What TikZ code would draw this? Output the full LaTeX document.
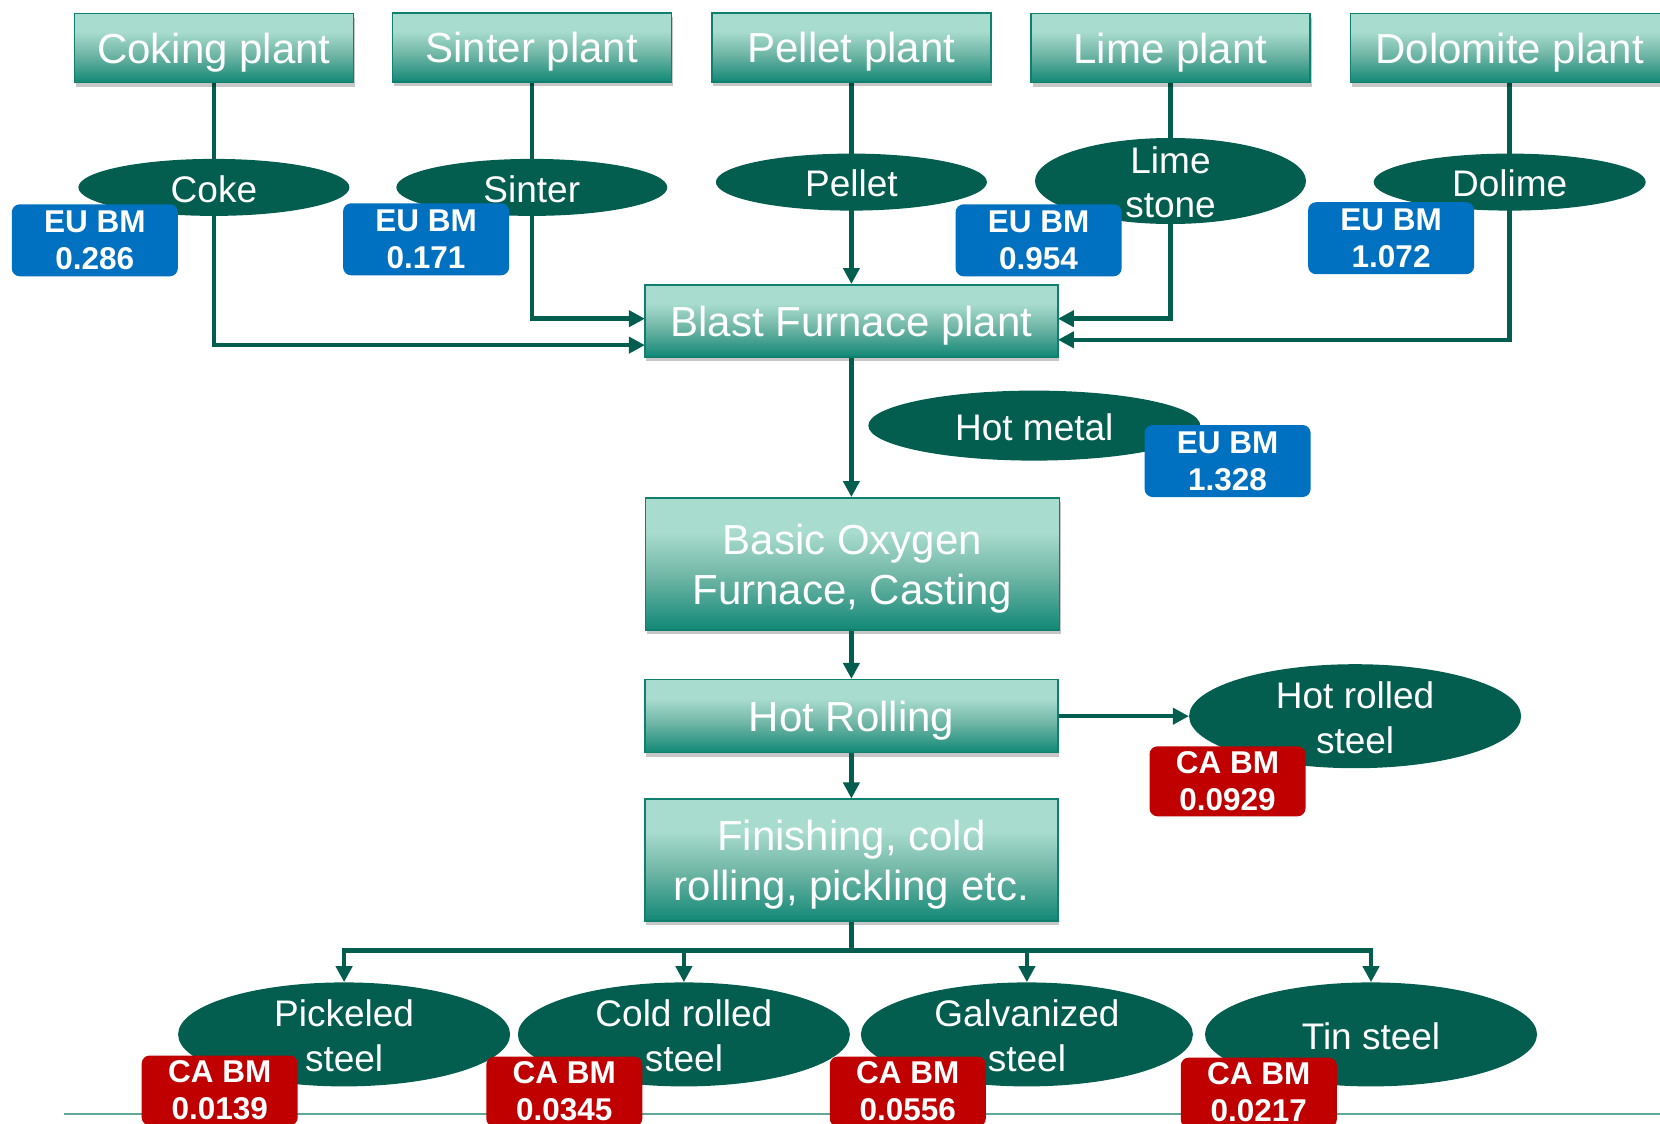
\documentclass[tikz,border=0pt]{standalone}
\usepackage{fontspec}
\setmainfont{Liberation Sans}
\usetikzlibrary{shapes.geometric,arrows.meta,shadows}
\definecolor{dkg}{HTML}{035E50}
\definecolor{bord}{HTML}{10806E}
\definecolor{euB}{HTML}{0070C0}
\definecolor{caR}{HTML}{C00000}
\definecolor{topc}{HTML}{A8DCCE}
\definecolor{midc}{HTML}{72B7A7}
\definecolor{botc}{HTML}{128876}
\definecolor{rulec}{HTML}{5FA89A}
\pgfdeclareverticalshading{boxshade}{100bp}{color(0bp)=(botc); color(25bp)=(botc); color(46bp)=(midc); color(62bp)=(topc); color(75bp)=(topc); color(100bp)=(topc)}
\pgfdeclarelayer{bg}
\pgfsetlayers{bg,main}
\tikzset{
  plant/.style={draw=bord, line width=1.5pt, shading=boxshade, minimum width=279pt, minimum height=69pt,
    text=white, font=\fontsize{42}{50}\selectfont, align=center, inner sep=0pt, text depth=0pt,
    drop shadow={shadow xshift=1.5pt, shadow yshift=-4pt, fill=black, opacity=0.22}},
  prod/.style={ellipse, fill=dkg, inner sep=0pt, minimum width=271pt, minimum height=57pt},
  ptext/.style={text=white, font=\fontsize{37}{44.5}\selectfont, align=center, inner sep=0pt, yshift=-1.5pt},
  eub/.style={rounded corners=8pt, fill=euB, text=white, font=\bfseries\fontsize{31.5}{37}\selectfont,
    align=center, inner sep=0pt, minimum width=166pt, minimum height=72pt},
  cab/.style={eub, fill=caR, minimum width=156pt, minimum height=70pt},
  conn/.style={draw=dkg, line width=4.5pt},
  arr/.style={conn, -{Triangle[length=16pt,width=16pt]}},
}
\begin{document}
\begin{tikzpicture}[x=1pt,y=-1pt]
\useasboundingbox (0,0) rectangle (1660,1124);
% top plants
\node[plant] (coking) at (213.9,48.2) {Coking plant};
\node[plant] (sinterp) at (531.8,47.6) {Sinter plant};
\node[plant] (pelletp) at (851.4,47.6) {Pellet plant};
\node[plant] (limep) at (1170.5,48.2) {Lime plant};
\node[plant, minimum width=318pt] (dolop) at (1509.7,48.2) {Dolomite plant};
% product ellipses
\node[prod] (coke) at (213.9,187.4) {};
\node[ptext] at (coke) {Coke};
\node[prod] (sinter) at (531.8,187.4) {};
\node[ptext] at (sinter) {Sinter};
\node[prod] (pellet) at (851.4,182.1) {};
\node[ptext] at (pellet) {Pellet};
\node[prod, minimum height=86pt] (lime) at (1170.5,181) {};
\node[ptext] at (lime) {Lime\\stone};
\node[prod, minimum width=272pt] (dolime) at (1509.7,182.1) {};
\node[ptext] at (dolime) {Dolime};
% main chain
\node[plant, minimum width=413pt, minimum height=72pt] (bf) at (851.4,320.8) {Blast Furnace plant};
\node[prod, minimum width=332pt, minimum height=70pt] (hotmetal) at (1034.3,425.6) {};
\node[ptext] at (hotmetal) {Hot metal};
\node[plant, minimum width=414pt, minimum height=132pt] (bof) at (852.3,563.8) {Basic Oxygen\\Furnace, Casting};
\node[plant, minimum width=413pt, minimum height=73pt] (hr) at (851.4,716.2) {Hot Rolling};
\node[prod, minimum width=332pt, minimum height=104pt] (hrs) at (1355.1,716.2) {};
\node[ptext] at (hrs) {Hot rolled\\steel};
\node[plant, minimum width=413pt, minimum height=122pt] (fin) at (851.4,860.2) {Finishing, cold\\rolling, pickling etc.};
% bottom products
\node[prod, minimum width=332pt, minimum height=104pt] (pick) at (344.1,1034.4) {};
\node[ptext] at (pick) {Pickeled\\steel};
\node[prod, minimum width=332pt, minimum height=104pt] (cold) at (683.9,1034.4) {};
\node[ptext] at (cold) {Cold rolled\\steel};
\node[prod, minimum width=332pt, minimum height=104pt] (galv) at (1026.9,1034.4) {};
\node[ptext] at (galv) {Galvanized\\steel};
\node[prod, minimum width=332pt, minimum height=104pt] (tin) at (1371,1034.4) {};
\node[ptext] at (tin) {Tin steel};
% coordinates
\coordinate (cokein) at (644.9,345.1);
\coordinate (sinterin) at (644.9,318.7);
\coordinate (limein) at (1057.9,318.7);
\coordinate (doloin) at (1057.9,339.8);
\coordinate (bus) at (851.4,950.7);
% connectors
\begin{pgfonlayer}{bg}
\draw[conn] (coking.south) -- (coke.center);
\draw[arr] (coke.center) |- (cokein);
\draw[conn] (sinterp.south) -- (sinter.center);
\draw[arr] (sinter.center) |- (sinterin);
\draw[conn] (pelletp.south) -- (pellet.center);
\draw[arr] (pellet.center) -- (bf.north);
\draw[conn] (limep.south) -- (lime.center);
\draw[arr] (lime.center) |- (limein);
\draw[conn] (dolop.south) -- (dolime.center);
\draw[arr] (dolime.center) |- (doloin);
\draw[draw=rulec, line width=2pt] (63.5,1113.8) -- (1670,1113.8);
\end{pgfonlayer}
\draw[arr] (bf.south) -- (bof.north -| bf.south);
\draw[arr] (bof.south -| hr.north) -- (hr.north);
\draw[arr] (hr.east) -- (hrs.west);
\draw[arr] (hr.south) -- (fin.north);
\draw[conn] (fin.south) -- (bus);
\draw[arr] (bus) -| (pick.north);
\draw[arr] (bus) -| (cold.north);
\draw[arr] (bus) -| (galv.north);
\draw[arr] (bus) -| (tin.north);
% benchmark labels
\node[eub] (eu1) at (94.8,240.3) {EU BM\\0.286};
\node[eub] (eu2) at (426.1,239.3) {EU BM\\0.171};
\node[eub] (eu3) at (1038.6,240.3) {EU BM\\0.954};
\node[eub] (eu4) at (1391.1,238.2) {EU BM\\1.072};
\node[eub] (eu5) at (1227.6,461) {EU BM\\1.328};
\node[cab] (ca1) at (1227.5,781.3) {CA BM\\0.0929};
\node[cab] (ca2) at (219.7,1090.5) {CA BM\\0.0139};
\node[cab] (ca3) at (564.3,1091.6) {CA BM\\0.0345};
\node[cab] (ca4) at (907.8,1091.6) {CA BM\\0.0556};
\node[cab] (ca5) at (1258.8,1092.6) {CA BM\\0.0217};
\end{tikzpicture}
\end{document}
